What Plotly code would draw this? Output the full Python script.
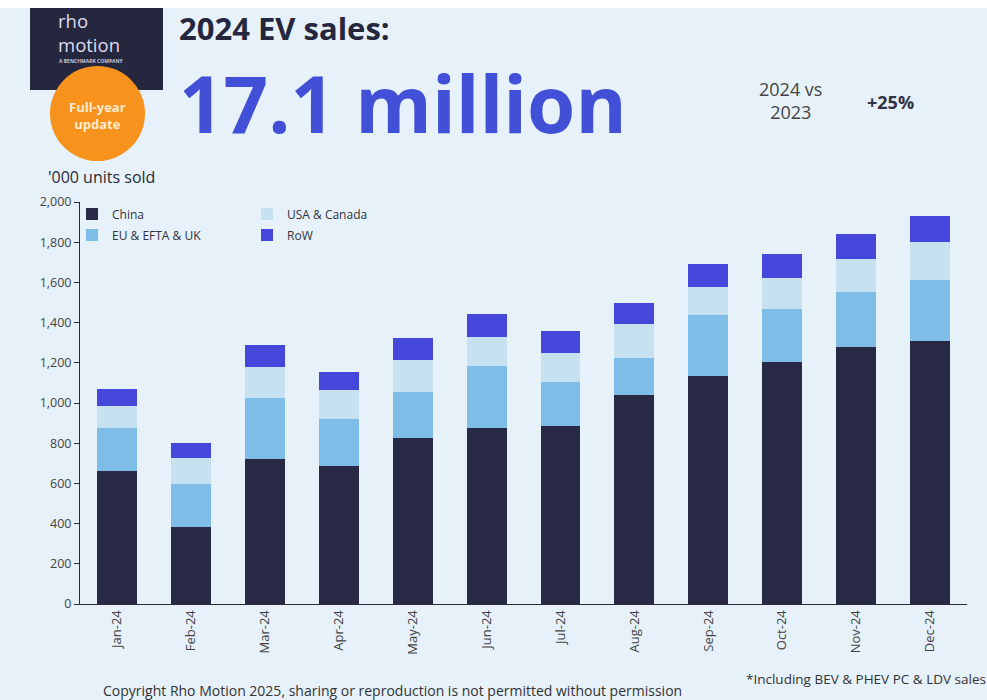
import plotly.graph_objects as go

months = ["Jan-24", "Feb-24", "Mar-24", "Apr-24", "May-24", "Jun-24",
          "Jul-24", "Aug-24", "Sep-24", "Oct-24", "Nov-24", "Dec-24"]
china = [663, 383, 720, 688, 824, 876, 886, 1040, 1136, 1206, 1279, 1308]
eu_efta_uk = [211, 214, 306, 231, 232, 310, 220, 185, 302, 263, 273, 304]
usa_canada = [111, 128, 153, 146, 158, 144, 144, 166, 141, 155, 166, 187]
row = [85, 75, 110, 89, 109, 113, 108, 108, 111, 116, 123, 131]
y_ticks = [0, 200, 400, 600, 800, 1000, 1200, 1400, 1600, 1800, 2000]

W, H = 987, 700
L, R, T, B = 80, 20, 202, 96
PW, PH = W - L - R, H - T - B

def px(x):
    return (x - L) / PW

def py(y):
    return (H - B - y) / PH

BG = "#e6f1f9"
FONT = "Open Sans"

fig = go.Figure()
series = [
    ("China", china, "#282a45", "legend", 1),
    ("EU & EFTA & UK", eu_efta_uk, "#7dbde8", "legend2", 3),
    ("USA & Canada", usa_canada, "#c6e1f0", "legend", 2),
    ("RoW", row, "#4547da", "legend2", 4),
]
for name, vals, col, lg, rank in series:
    fig.add_trace(go.Bar(x=months, y=vals, name=name, marker_color=col,
                         marker_line_width=0, legend=lg, legendrank=rank))

shapes = [
    # white strip at top
    dict(type="rect", xref="paper", yref="paper", x0=px(-5), x1=px(W + 5),
         y0=py(8), y1=py(-5), fillcolor="white", line_width=0, layer="below"),
    # logo box
    dict(type="rect", xref="paper", yref="paper", x0=px(30), x1=px(163),
         y0=py(90), y1=py(8), fillcolor="#25273f", line_width=0),
    # orange badge
    dict(type="circle", xref="paper", yref="paper", x0=px(50), x1=px(145),
         y0=py(161), y1=py(66), fillcolor="#f7921c", line_width=0),
]

ann = []
def text(x, y, s, size, color, xanchor="left", bold=False):
    if bold:
        s = "<b>" + s + "</b>"
    ann.append(dict(x=px(x), y=py(y), xref="paper", yref="paper", text=s,
                    showarrow=False, xanchor=xanchor, yanchor="middle",
                    align="center" if xanchor == "center" else "left",
                    font=dict(family=FONT, size=size, color=color)))

text(56, 32, "rho<br>motion", 18.5, "#dcdcef")
text(57, 61, "A BENCHMARK COMPANY", 5, "#c8c8da", bold=True)
text(97, 116, "Full-year<br>update", 13, "#fdebd2", "center", bold=True)
text(177, 81,
     '<span style="font-size:31px;color:#25273f"><b>2024 EV sales:</b></span><br>'
     '<span style="font-size:78px;color:#4150d6"><b>17.1 million</b></span>',
     71.5, "#4150d6")
text(790, 101, "2024 vs<br>2023", 18, "#444444", "center")
text(890, 102, "+25%", 18, "#333344", "center", bold=True)
text(46, 177, "'000 units sold", 16, "#2a2a35")
text(101, 690, "Copyright Rho Motion 2025, sharing or reproduction is not permitted without permission",
     14, "#333333")
text(744, 679, "*Including BEV & PHEV PC & LDV sales", 13.5, "#333333")

legend_common = dict(orientation="h", xref="paper", yref="paper", xanchor="left",
                     yanchor="middle", bgcolor="rgba(0,0,0,0)", entrywidth=130,
                     entrywidthmode="pixels", traceorder="normal",
                     font=dict(family=FONT, size=12, color="#333340"),
                     itemwidth=30, tracegroupgap=0)

fig.update_layout(
    width=W, height=H,
    margin=dict(l=L, r=R, t=T, b=B),
    paper_bgcolor=BG, plot_bgcolor=BG,
    barmode="stack", bargap=0.46,
    font=dict(family=FONT, size=12, color="#333"),
    shapes=shapes, annotations=ann,
    legend=dict(x=px(72), y=py(214), **legend_common),
    legend2=dict(x=px(72), y=py(235), **legend_common),
    xaxis=dict(range=[-0.5, 11.5], tickangle=-90, showline=True, linecolor="#2a2a35",
               linewidth=1, ticks="", showgrid=False,
               tickfont=dict(family=FONT, size=13, color="#444"), fixedrange=True),
    yaxis=dict(range=[0, 2000], tickvals=y_ticks, tickformat=",d", showline=True,
               linecolor="#2a2a35", linewidth=1, ticks="outside", ticklen=5,
               tickcolor="#2a2a35", showgrid=False, zeroline=False,
               tickfont=dict(family=FONT, size=12.5, color="#444"), fixedrange=True),
)

fig.write_html("out.html", config={"displayModeBar": False},
               post_script="document.body.style.margin='0';document.body.style.background='" + BG + "';")
